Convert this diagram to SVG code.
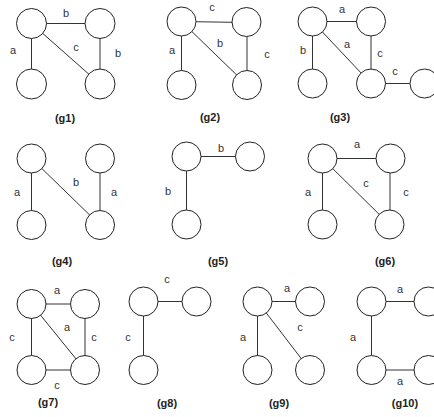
<svg xmlns="http://www.w3.org/2000/svg" width="434" height="417" viewBox="0 0 434 417">
<style>
.e{stroke:#333;stroke-width:1;fill:none}
.n{fill:#fff;stroke:#222;stroke-width:1}
.l{font-family:"Liberation Sans",Arial,sans-serif;font-size:11px;fill:#333;text-anchor:middle}
.t{font-family:"Liberation Sans",Arial,sans-serif;font-size:11px;font-weight:bold;fill:#222;text-anchor:middle}
</style>
<rect width="434" height="417" fill="#fff"/>
<g id="connectors">
<!-- g1 -->
<line class="e" x1="31.5" y1="23.5" x2="100" y2="23.5"/>
<line class="e" x1="31.5" y1="23.5" x2="31.5" y2="84"/>
<line class="e" x1="31.5" y1="23.5" x2="100" y2="84"/>
<line class="e" x1="100" y1="23.5" x2="100" y2="84"/>
<!-- g2 -->
<line class="e" x1="181.5" y1="21.5" x2="246.5" y2="22.5"/>
<line class="e" x1="181.5" y1="21.5" x2="181.5" y2="85"/>
<line class="e" x1="181.5" y1="21.5" x2="247" y2="85"/>
<line class="e" x1="247" y1="22" x2="247" y2="85"/>
<!-- g3 -->
<line class="e" x1="312.5" y1="21.5" x2="371" y2="21.5"/>
<line class="e" x1="312.5" y1="21.5" x2="312.5" y2="83.5"/>
<line class="e" x1="312.5" y1="21.5" x2="371" y2="83.5"/>
<line class="e" x1="371" y1="21.5" x2="371" y2="83.5"/>
<line class="e" x1="371" y1="83.5" x2="424.5" y2="83.5"/>
<!-- g4 -->
<line class="e" x1="31.5" y1="158.5" x2="31.5" y2="225"/>
<line class="e" x1="31.5" y1="158.5" x2="100" y2="225"/>
<line class="e" x1="100" y1="158.5" x2="100" y2="225"/>
<!-- g5 -->
<line class="e" x1="186.5" y1="156.5" x2="250" y2="156.5"/>
<line class="e" x1="186.5" y1="156.5" x2="186.5" y2="224.5"/>
<!-- g6 -->
<line class="e" x1="322.5" y1="158.5" x2="391" y2="158.5"/>
<line class="e" x1="322.5" y1="158.5" x2="322.5" y2="224.5"/>
<line class="e" x1="322.5" y1="158.5" x2="389.5" y2="224.5"/>
<line class="e" x1="390" y1="158.5" x2="390" y2="224.5"/>
<!-- g7 -->
<line class="e" x1="31.5" y1="304" x2="85" y2="304"/>
<line class="e" x1="31.5" y1="304" x2="31.5" y2="370"/>
<line class="e" x1="85" y1="304" x2="85" y2="370"/>
<line class="e" x1="31.5" y1="370" x2="85" y2="370"/>
<line class="e" x1="31.5" y1="304" x2="85" y2="370"/>
<!-- g8 -->
<line class="e" x1="143.5" y1="301.5" x2="196.5" y2="301.5"/>
<line class="e" x1="143.5" y1="301.5" x2="143.5" y2="370"/>
<!-- g9 -->
<line class="e" x1="257.5" y1="301.5" x2="310" y2="301.5"/>
<line class="e" x1="257.5" y1="301.5" x2="257.5" y2="370"/>
<line class="e" x1="257.5" y1="301.5" x2="310" y2="370"/>
<!-- g10 -->
<line class="e" x1="371.5" y1="301.5" x2="428.5" y2="301.5"/>
<line class="e" x1="371.5" y1="301.5" x2="371.5" y2="370"/>
<line class="e" x1="371.5" y1="370" x2="428.5" y2="370"/>
</g>
<g id="g1">
<circle class="n" cx="31.5" cy="23.5" r="15"/>
<circle class="n" cx="100" cy="23.5" r="15"/>
<circle class="n" cx="31.5" cy="84" r="15"/>
<circle class="n" cx="100" cy="84" r="15"/>
<text class="l" x="66" y="17">b</text>
<text class="l" x="13" y="54">a</text>
<text class="l" x="76" y="51">c</text>
<text class="l" x="118" y="57">b</text>
<text class="t" x="65" y="122">(g1)</text>
</g>
<g id="g2">
<circle class="n" cx="181.5" cy="21.5" r="14.5"/>
<circle class="n" cx="246.5" cy="22" r="14.5"/>
<circle class="n" cx="181.5" cy="85" r="14.5"/>
<circle class="n" cx="247" cy="85" r="14.5"/>
<text class="l" x="212" y="11">c</text>
<text class="l" x="172" y="54">a</text>
<text class="l" x="220" y="47">b</text>
<text class="l" x="267" y="58">c</text>
<text class="t" x="210" y="121">(g2)</text>
</g>
<g id="g3">
<circle class="n" cx="312.5" cy="21.5" r="14.5"/>
<circle class="n" cx="371" cy="21.5" r="14.5"/>
<circle class="n" cx="312.5" cy="83.5" r="14.5"/>
<circle class="n" cx="371" cy="83.5" r="14.5"/>
<circle class="n" cx="424.5" cy="83.5" r="14.5"/>
<text class="l" x="342" y="13">a</text>
<text class="l" x="303" y="54">b</text>
<text class="l" x="347" y="48">a</text>
<text class="l" x="380" y="57">c</text>
<text class="l" x="395" y="75">c</text>
<text class="t" x="340" y="121">(g3)</text>
</g>
<g id="g4">
<circle class="n" cx="31.5" cy="158.5" r="14.5"/>
<circle class="n" cx="100" cy="158.5" r="14.5"/>
<circle class="n" cx="31.5" cy="225" r="14.5"/>
<circle class="n" cx="100" cy="225" r="14.5"/>
<text class="l" x="17" y="196">a</text>
<text class="l" x="76" y="186">b</text>
<text class="l" x="114" y="196">a</text>
<text class="t" x="62" y="265">(g4)</text>
</g>
<g id="g5">
<circle class="n" cx="186.5" cy="156.5" r="14.5"/>
<circle class="n" cx="250" cy="156.5" r="14.5"/>
<circle class="n" cx="186.5" cy="224.5" r="14.5"/>
<text class="l" x="221" y="152">b</text>
<text class="l" x="168" y="195">b</text>
<text class="t" x="218" y="265">(g5)</text>
</g>
<g id="g6">
<circle class="n" cx="322.5" cy="158.5" r="14.5"/>
<circle class="n" cx="390.5" cy="158.5" r="14.5"/>
<circle class="n" cx="322.5" cy="224.5" r="14.5"/>
<circle class="n" cx="389.5" cy="224.5" r="14.5"/>
<text class="l" x="357" y="148">a</text>
<text class="l" x="308" y="196">a</text>
<text class="l" x="366" y="187">c</text>
<text class="l" x="406" y="196">c</text>
<text class="t" x="385" y="265">(g6)</text>
</g>
<g id="g7">
<circle class="n" cx="31.5" cy="304" r="14.5"/>
<circle class="n" cx="85" cy="304" r="14.5"/>
<circle class="n" cx="31.5" cy="370" r="14.5"/>
<circle class="n" cx="85" cy="370" r="14.5"/>
<text class="l" x="57" y="294">a</text>
<text class="l" x="67" y="331">a</text>
<text class="l" x="12" y="341">c</text>
<text class="l" x="94" y="341">c</text>
<text class="l" x="57" y="389">c</text>
<text class="t" x="48" y="406">(g7)</text>
</g>
<g id="g8">
<circle class="n" cx="143.5" cy="301.5" r="14.5"/>
<circle class="n" cx="196.5" cy="301.5" r="14.5"/>
<circle class="n" cx="143.5" cy="370" r="14.5"/>
<text class="l" x="167" y="283">c</text>
<text class="l" x="128" y="341">c</text>
<text class="t" x="167" y="407">(g8)</text>
</g>
<g id="g9">
<circle class="n" cx="257.5" cy="301.5" r="14.5"/>
<circle class="n" cx="310" cy="301.5" r="14.5"/>
<circle class="n" cx="257.5" cy="370" r="14.5"/>
<circle class="n" cx="310" cy="370" r="14.5"/>
<text class="l" x="287" y="292">a</text>
<text class="l" x="243" y="341">a</text>
<text class="l" x="300" y="331">c</text>
<text class="t" x="279" y="407">(g9)</text>
</g>
<g id="g10">
<circle class="n" cx="371.5" cy="301.5" r="14.5"/>
<circle class="n" cx="428.5" cy="301.5" r="14.5"/>
<circle class="n" cx="371.5" cy="370" r="14.5"/>
<circle class="n" cx="428.5" cy="370" r="14.5"/>
<text class="l" x="400" y="293">a</text>
<text class="l" x="353" y="341">a</text>
<text class="l" x="400" y="385">a</text>
<text class="t" x="405" y="407">(g10)</text>
</g>
</svg>
